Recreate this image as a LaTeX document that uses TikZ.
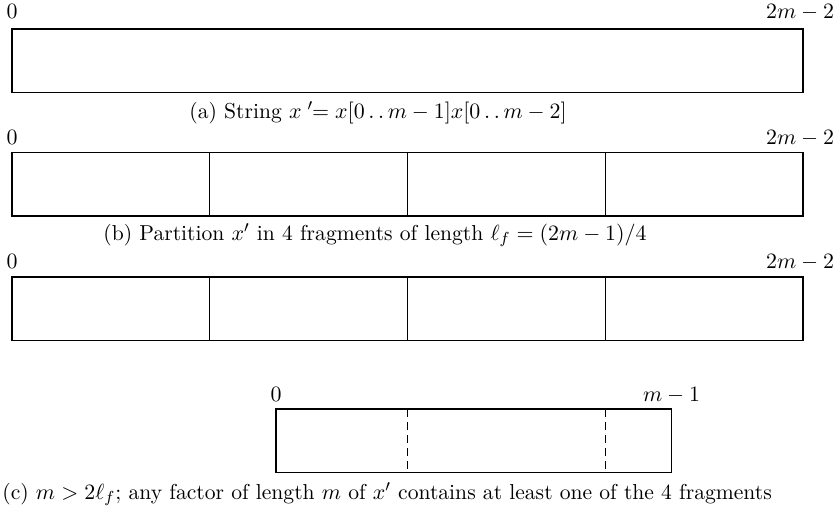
\documentclass[tikz,border=0pt]{standalone}
\usepackage{amsmath, amssymb}
\usepackage{tikz}
\usetikzlibrary{positioning}
\tikzset{
  strbox/.style={rectangle, draw=black, line width=0.7pt, inner sep=0pt, outer sep=0pt,
              minimum height=31.75pt, minimum width=395.5pt},
  frag/.style={strbox, minimum width=98.875pt},
  factor/.style={strbox, minimum width=197.75pt},
  idx/.style={inner sep=0pt, text depth=0pt},
  endidx/.style={idx, xshift=-1.5pt},
  capt/.style={inner sep=0pt, anchor=base},
  cut/.style={line width=0.7pt, dash pattern=on 4pt off 2.5pt},
}
\begin{document}
\begin{tikzpicture}[x=1pt, y=-1pt, font=\fontsize{10.8pt}{13pt}\selectfont]
    \useasboundingbox (0,0) rectangle (420,255.5);

    % (a) the string x'
    \node[strbox, anchor=north west] (xa) at (6,14.5) {};
    \node[idx, above=5pt of xa.north west] (a0) {$0$};
    \node[endidx, above=5pt of xa.north east] (aend) {$2m-2$};
    \node[capt] (capa) at (189,59)
        {(a) String $x\;{}'\!\!= x[0\mathinner{\ldotp\ldotp}m-1]x[0\mathinner{\ldotp\ldotp}m-2]$};

    % (b) four fragments
    \node[frag, anchor=north west] (b1) at (6,76.25) {};
    \node[frag, right=0pt of b1] (b2) {};
    \node[frag, right=0pt of b2] (b3) {};
    \node[frag, right=0pt of b3] (b4) {};
    \node[idx, above=4pt of b1.north west] (b0) {$0$};
    \node[endidx, above=4pt of b4.north east] (bend) {$2m-2$};
    \node[capt] (capb) at (187.5,120)
        {(b) Partition $x'$ in 4 fragments of length $\ell_f = (2m-1)/4$};

    % (c) a factor of length m
    \node[frag, anchor=north west] (r1) at (6,138.5) {};
    \node[frag, right=0pt of r1] (r2) {};
    \node[frag, right=0pt of r2] (r3) {};
    \node[frag, right=0pt of r3] (r4) {};
    \node[idx, above=4pt of r1.north west] (r0) {$0$};
    \node[endidx, above=4pt of r4.north east] (rend) {$2m-2$};

    \node[factor, anchor=north west] (xc) at (138,204.5) {};
    \node[idx, above=3.5pt of xc.north west] (c0) {$0$};
    \node[idx, above=3.5pt of xc.north east] (cend) {$m-1$};
    \draw[cut] (xc.north -| r2.east) -- (xc.south -| r2.east);
    \draw[cut] (xc.north -| r3.east) -- (xc.south -| r3.east);
    \node[capt, anchor=base west] (capc) at (1,249.5)
        {(c) $m > 2\ell_f$; any factor of length $m$ of $x'$ contains at least one of the 4 fragments};
\end{tikzpicture}
\end{document}
